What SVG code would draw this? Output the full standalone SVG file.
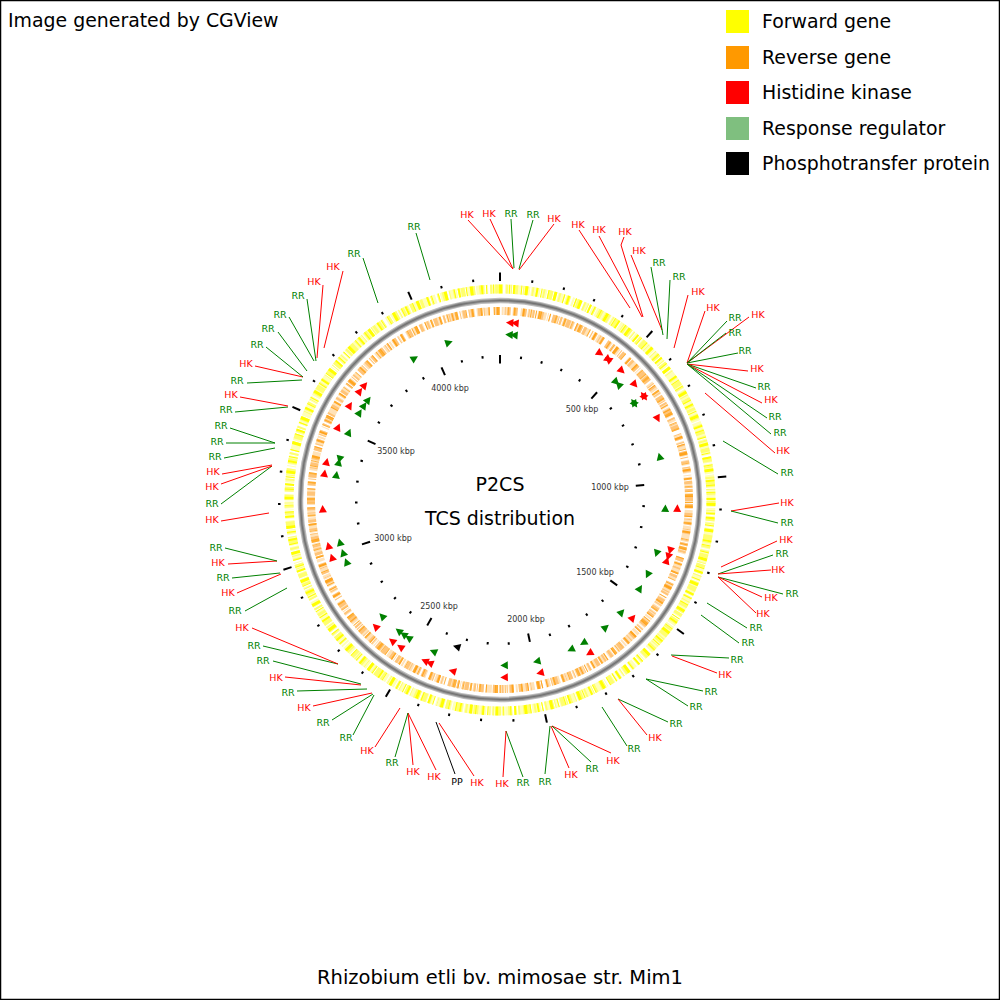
<svg xmlns="http://www.w3.org/2000/svg" xmlns:xlink="http://www.w3.org/1999/xlink" width="1000" height="1000" viewBox="0 0 1000 1000">
<style>
.lab text{font-family:"DejaVu Sans","Liberation Sans",sans-serif;font-size:9.5px;text-anchor:middle}
.tr text,text.tr{fill:#ff0000}
.tg text,text.tg{fill:#008000}
.tk text{fill:#000}
.cr{stroke:#ff0000}
.cg{stroke:#008000}
.ck{stroke:#000}
.kb{font-family:"DejaVu Sans","Liberation Sans",sans-serif;font-size:8px;fill:#333;text-anchor:middle}
.big{font-family:"DejaVu Sans","Liberation Sans",sans-serif;fill:#000}
.fr{fill:#ff0000}.fg{fill:#008000}.fk{fill:#000}
</style>
<defs>
<path id="tf" d="M-3.5,-4L4,0L-3.5,4Z"/>
<path id="tb" d="M3.5,-4L-4,0L3.5,4Z"/>
<line id="ts" x1="0" y1="-142.5" x2="0" y2="-145" stroke="#000" stroke-width="2"/>
<line id="tl" x1="0" y1="-136.5" x2="0" y2="-145" stroke="#000" stroke-width="2"/>
<line id="os" x1="0" y1="-219.5" x2="0" y2="-222" stroke="#000" stroke-width="2"/>
<line id="ol" x1="0" y1="-219" x2="0" y2="-227.5" stroke="#000" stroke-width="2"/>
</defs>
<rect x="0.5" y="0.5" width="999" height="999" fill="#fff" stroke="#000" stroke-width="1.5"/>

<text class="big" x="8" y="27" font-size="18.9">Image generated by CGView</text>

<g id="legend" class="big" font-size="18.9">
<rect x="726" y="10" width="23" height="23" fill="#ffff00"/>
<text x="762" y="28">Forward gene</text>
<rect x="726" y="46" width="23" height="23" fill="#ff9900"/>
<text x="762" y="64">Reverse gene</text>
<rect x="726" y="81" width="23" height="23" fill="#ff0000"/>
<text x="762" y="99">Histidine kinase</text>
<rect x="726" y="117" width="23" height="23" fill="#7fbf7f"/>
<text x="762" y="135">Response regulator</text>
<rect x="726" y="152" width="23" height="23" fill="#000"/>
<text x="762" y="170">Phosphotransfer protein</text>
</g>

<g id="rings" fill="none">
<circle cx="500" cy="500" r="211" stroke="#ffffb8" stroke-width="9" stroke-dasharray="4 1 2 1 6 2 1 1 3 1 5 1 2 2 7 1 1 1 3 2 2 1 4 1 1 3 5 1 2 1"/>
<circle cx="500" cy="500" r="211" stroke="#ffff70" stroke-width="9" stroke-dasharray="2 3 1 2 4 5 1 1 3 4 2 2 1 6 2 3 5 2 1 3" stroke-dashoffset="7"/>
<circle cx="500" cy="500" r="211" stroke="#ffff00" stroke-width="9" stroke-dasharray="1 5 3 7 1 3 2 6 1 3 3 8 2 3 1 6" stroke-dashoffset="3"/>
<circle cx="500" cy="500" r="189" stroke="#ffe2b8" stroke-width="8" stroke-dasharray="3 1 1 2 2 1 5 3 1 1 2 4 3 1 1 2 6 2 1 1 2 3 4 1 1 5"/>
<circle cx="500" cy="500" r="189" stroke="#ffc478" stroke-width="8" stroke-dasharray="1 2 3 3 1 1 2 5 4 2 1 3 2 4 1 1 3 6" stroke-dashoffset="5"/>
<circle cx="500" cy="500" r="189" stroke="#ff9900" stroke-opacity="0.75" stroke-width="8" stroke-dasharray="2 6 1 4 1 2 3 8 1 5 2 7" stroke-dashoffset="11"/>
<circle cx="500" cy="500" r="199.5" stroke="#bdbdbd" stroke-width="5.5"/>
<circle cx="500" cy="500" r="199.5" stroke="#909090" stroke-width="3.2"/>
<circle cx="500" cy="500" r="199.5" stroke="#727272" stroke-width="1.2"/>
</g>

<g id="rulers" transform="translate(500,500)">
<use href="#tl"/><use href="#ts" transform="rotate(8.405)"/><use href="#ts" transform="rotate(16.811)"/><use href="#ts" transform="rotate(25.216)"/><use href="#ts" transform="rotate(33.621)"/><use href="#tl" transform="rotate(42.027)"/><use href="#ts" transform="rotate(50.432)"/><use href="#ts" transform="rotate(58.837)"/><use href="#ts" transform="rotate(67.243)"/><use href="#ts" transform="rotate(75.648)"/><use href="#tl" transform="rotate(84.053)"/><use href="#ts" transform="rotate(92.459)"/><use href="#ts" transform="rotate(100.864)"/><use href="#ts" transform="rotate(109.269)"/><use href="#ts" transform="rotate(117.675)"/><use href="#tl" transform="rotate(126.08)"/><use href="#ts" transform="rotate(134.485)"/><use href="#ts" transform="rotate(142.891)"/><use href="#ts" transform="rotate(151.296)"/><use href="#ts" transform="rotate(159.701)"/><use href="#tl" transform="rotate(168.107)"/><use href="#ts" transform="rotate(176.512)"/><use href="#ts" transform="rotate(184.917)"/><use href="#ts" transform="rotate(193.323)"/><use href="#ts" transform="rotate(201.728)"/><use href="#tl" transform="rotate(210.133)"/><use href="#ts" transform="rotate(218.539)"/><use href="#ts" transform="rotate(226.944)"/><use href="#ts" transform="rotate(235.349)"/><use href="#ts" transform="rotate(243.755)"/><use href="#tl" transform="rotate(252.16)"/><use href="#ts" transform="rotate(260.565)"/><use href="#ts" transform="rotate(268.971)"/><use href="#ts" transform="rotate(277.376)"/><use href="#ts" transform="rotate(285.781)"/><use href="#tl" transform="rotate(294.187)"/><use href="#ts" transform="rotate(302.592)"/><use href="#ts" transform="rotate(310.997)"/><use href="#ts" transform="rotate(319.403)"/><use href="#ts" transform="rotate(327.808)"/><use href="#tl" transform="rotate(336.213)"/><use href="#ts" transform="rotate(344.619)"/><use href="#ts" transform="rotate(353.024)"/>
<use href="#ol"/><use href="#os" transform="rotate(8.405)"/><use href="#os" transform="rotate(16.811)"/><use href="#os" transform="rotate(25.216)"/><use href="#os" transform="rotate(33.621)"/><use href="#ol" transform="rotate(42.027)"/><use href="#os" transform="rotate(50.432)"/><use href="#os" transform="rotate(58.837)"/><use href="#os" transform="rotate(67.243)"/><use href="#os" transform="rotate(75.648)"/><use href="#ol" transform="rotate(84.053)"/><use href="#os" transform="rotate(92.459)"/><use href="#os" transform="rotate(100.864)"/><use href="#os" transform="rotate(109.269)"/><use href="#os" transform="rotate(117.675)"/><use href="#ol" transform="rotate(126.08)"/><use href="#os" transform="rotate(134.485)"/><use href="#os" transform="rotate(142.891)"/><use href="#os" transform="rotate(151.296)"/><use href="#os" transform="rotate(159.701)"/><use href="#ol" transform="rotate(168.107)"/><use href="#os" transform="rotate(176.512)"/><use href="#os" transform="rotate(184.917)"/><use href="#os" transform="rotate(193.323)"/><use href="#os" transform="rotate(201.728)"/><use href="#ol" transform="rotate(210.133)"/><use href="#os" transform="rotate(218.539)"/><use href="#os" transform="rotate(226.944)"/><use href="#os" transform="rotate(235.349)"/><use href="#os" transform="rotate(243.755)"/><use href="#ol" transform="rotate(252.16)"/><use href="#os" transform="rotate(260.565)"/><use href="#os" transform="rotate(268.971)"/><use href="#os" transform="rotate(277.376)"/><use href="#os" transform="rotate(285.781)"/><use href="#ol" transform="rotate(294.187)"/><use href="#os" transform="rotate(302.592)"/><use href="#os" transform="rotate(310.997)"/><use href="#os" transform="rotate(319.403)"/><use href="#os" transform="rotate(327.808)"/><use href="#ol" transform="rotate(336.213)"/><use href="#os" transform="rotate(344.619)"/><use href="#os" transform="rotate(353.024)"/>
</g>

<g id="kbp-labels">
<text class="kb" x="582" y="412">500 kbp</text>
<text class="kb" x="610" y="490">1000 kbp</text>
<text class="kb" x="595" y="575">1500 kbp</text>
<text class="kb" x="526" y="622">2000 kbp</text>
<text class="kb" x="439" y="609">2500 kbp</text>
<text class="kb" x="393" y="541">3000 kbp</text>
<text class="kb" x="396" y="454">3500 kbp</text>
<text class="kb" x="450" y="391">4000 kbp</text>
</g>

<g id="center-title" class="big" text-anchor="middle" font-size="19">
<text x="500" y="491">P2CS</text>
<text x="500" y="525">TCS distribution</text>
</g>

<g id="features" transform="translate(500,500)">
<g class="fr">
<use href="#tb" transform="rotate(3.2) translate(0,-177.5)"/>
<use href="#tb" transform="rotate(4.9) translate(0,-177.5)"/>
<use href="#tf" transform="rotate(34.3) translate(0,-177.5)"/>
<use href="#tf" transform="rotate(37.6) translate(0,-177.5)"/>
<use href="#tb" transform="rotate(37.6) translate(0,-177.5)"/>
<use href="#tf" transform="rotate(43.3) translate(0,-177.5)"/>
<use href="#tf" transform="rotate(49.4) translate(0,-177.5)"/>
<use href="#tb" transform="rotate(53.8) translate(0,-177.5)"/>
<use href="#tf" transform="rotate(54.6) translate(0,-177.5)"/>
<use href="#tf" transform="rotate(62.7) translate(0,-177.5)"/>
<use href="#tb" transform="rotate(92.7) translate(0,-177.5)"/>
<use href="#tf" transform="rotate(106.5) translate(0,-177.5)"/>
<use href="#tf" transform="rotate(108.6) translate(0,-177.5)"/>
<use href="#tb" transform="rotate(110) translate(0,-177.5)"/>
<use href="#tb" transform="rotate(131.6) translate(0,-177.5)"/>
<use href="#tf" transform="rotate(149.7) translate(0,-177.5)"/>
<use href="#tf" transform="rotate(166.9) translate(0,-177.5)"/>
<use href="#tf" transform="rotate(178.6) translate(0,-177.5)"/>
<use href="#tf" transform="rotate(195.5) translate(0,-177.5)"/>
<use href="#tf" transform="rotate(203.3) translate(0,-177.5)"/>
<use href="#tf" transform="rotate(205) translate(0,-177.5)"/>
<use href="#tf" transform="rotate(214.1) translate(0,-177.5)"/>
<use href="#tf" transform="rotate(217.4) translate(0,-177.5)"/>
<use href="#tf" transform="rotate(224.5) translate(0,-177.5)"/>
<use href="#tf" transform="rotate(251.1) translate(0,-177.5)"/>
<use href="#tf" transform="rotate(255) translate(0,-177.5)"/>
<use href="#tf" transform="rotate(267.1) translate(0,-177.5)"/>
<use href="#tf" transform="rotate(278.6) translate(0,-177.5)"/>
<use href="#tf" transform="rotate(282.4) translate(0,-177.5)"/>
<use href="#tf" transform="rotate(294.2) translate(0,-177.5)"/>
<use href="#tf" transform="rotate(302.2) translate(0,-177.5)"/>
<use href="#tf" transform="rotate(307.8) translate(0,-177.5)"/>
<use href="#tf" transform="rotate(310.3) translate(0,-177.5)"/>
</g>
<g class="fg">
<use href="#tb" transform="rotate(3.2) translate(0,-165.5)"/>
<use href="#tb" transform="rotate(4.9) translate(0,-165.5)"/>
<use href="#tf" transform="rotate(44.6) translate(0,-165.5)"/>
<use href="#tb" transform="rotate(45.8) translate(0,-165.5)"/>
<use href="#tb" transform="rotate(53.8) translate(0,-165.5)"/>
<use href="#tf" transform="rotate(54.6) translate(0,-165.5)"/>
<use href="#tb" transform="rotate(74.8) translate(0,-165.5)"/>
<use href="#tb" transform="rotate(92.9) translate(0,-165.5)"/>
<use href="#tf" transform="rotate(108.8) translate(0,-165.5)"/>
<use href="#tf" transform="rotate(116.8) translate(0,-165.5)"/>
<use href="#tb" transform="rotate(122.3) translate(0,-165.5)"/>
<use href="#tb" transform="rotate(132.7) translate(0,-165.5)"/>
<use href="#tb" transform="rotate(140.3) translate(0,-165.5)"/>
<use href="#tf" transform="rotate(149.7) translate(0,-165.5)"/>
<use href="#tf" transform="rotate(154.6) translate(0,-165.5)"/>
<use href="#tf" transform="rotate(167.1) translate(0,-165.5)"/>
<use href="#tf" transform="rotate(178.5) translate(0,-165.5)"/>
<use href="#tf" transform="rotate(203.7) translate(0,-165.5)"/>
<use href="#tf" transform="rotate(213.5) translate(0,-165.5)"/>
<use href="#tf" transform="rotate(215.6) translate(0,-165.5)"/>
<use href="#tf" transform="rotate(217.7) translate(0,-165.5)"/>
<use href="#tf" transform="rotate(225.4) translate(0,-165.5)"/>
<use href="#tf" transform="rotate(248) translate(0,-165.5)"/>
<use href="#tf" transform="rotate(251.4) translate(0,-165.5)"/>
<use href="#tf" transform="rotate(255.2) translate(0,-165.5)"/>
<use href="#tf" transform="rotate(278.7) translate(0,-165.5)"/>
<use href="#tf" transform="rotate(283.1) translate(0,-165.5)"/>
<use href="#tb" transform="rotate(284.3) translate(0,-165.5)"/>
<use href="#tf" transform="rotate(294.1) translate(0,-165.5)"/>
<use href="#tf" transform="rotate(301.9) translate(0,-165.5)"/>
<use href="#tf" transform="rotate(304.8) translate(0,-165.5)"/>
<use href="#tf" transform="rotate(307.2) translate(0,-165.5)"/>
<use href="#tf" transform="rotate(328.9) translate(0,-165.5)"/>
<use href="#tf" transform="rotate(342) translate(0,-165.5)"/>
</g>
<g class="fk">
<use href="#tf" transform="rotate(196.4) translate(0,-153)"/>
</g>
</g>

<g id="connectors" fill="none" stroke-width="1">
<line class="cg" x1="416" y1="233" x2="430" y2="280"/>
<line class="cr" x1="468" y1="220" x2="513" y2="269"/>
<line class="cr" x1="490" y1="219" x2="513" y2="269"/>
<line class="cg" x1="511" y1="219" x2="514" y2="268"/>
<line class="cg" x1="533" y1="220" x2="519" y2="269"/>
<line class="cr" x1="554" y1="224" x2="519" y2="270"/>
<line class="cr" x1="579" y1="230" x2="630" y2="308"/>
<line class="cr" x1="599" y1="236" x2="642" y2="317"/>
<polyline class="cr" points="624,237 621,245 643,317"/>
<line class="cr" x1="631" y1="255" x2="662" y2="330"/>
<line class="cg" x1="651" y1="267" x2="663" y2="335"/>
<line class="cg" x1="670" y1="280" x2="667" y2="339"/>
<line class="cr" x1="688" y1="295" x2="674" y2="348"/>
<line class="cr" x1="705" y1="311" x2="687" y2="363"/>
<line class="cg" x1="727" y1="321" x2="687" y2="363"/>
<line class="cr" x1="749" y1="317" x2="687" y2="363"/>
<line class="cg" x1="726" y1="333" x2="687" y2="363"/>
<line class="cg" x1="738" y1="353" x2="687" y2="363"/>
<line class="cr" x1="748" y1="371" x2="687" y2="364"/>
<line class="cg" x1="756" y1="388" x2="687" y2="364"/>
<line class="cr" x1="762" y1="403" x2="687" y2="364"/>
<line class="cg" x1="767" y1="418" x2="687" y2="364"/>
<line class="cg" x1="771" y1="434" x2="687" y2="364"/>
<line class="cr" x1="775" y1="453" x2="705" y2="393"/>
<line class="cg" x1="778" y1="474" x2="723" y2="441"/>
<line class="cr" x1="779" y1="503" x2="731" y2="511"/>
<line class="cg" x1="778" y1="523" x2="731" y2="511"/>
<line class="cr" x1="777" y1="541" x2="721" y2="567"/>
<line class="cg" x1="773" y1="555" x2="718" y2="574"/>
<line class="cr" x1="771" y1="570" x2="718" y2="574"/>
<line class="cg" x1="783" y1="594" x2="718" y2="577"/>
<line class="cr" x1="762" y1="597" x2="718" y2="577"/>
<line class="cr" x1="756" y1="613" x2="718" y2="577"/>
<line class="cg" x1="747" y1="628" x2="707" y2="603"/>
<line class="cg" x1="739" y1="643" x2="701" y2="615"/>
<line class="cg" x1="729" y1="658" x2="671" y2="655"/>
<line class="cr" x1="717" y1="673" x2="672" y2="656"/>
<line class="cg" x1="703" y1="691" x2="646" y2="679"/>
<line class="cg" x1="688" y1="706" x2="646" y2="679"/>
<line class="cg" x1="668" y1="722" x2="618" y2="699"/>
<line class="cr" x1="647" y1="735" x2="618" y2="699"/>
<line class="cg" x1="627" y1="746" x2="602" y2="707"/>
<line class="cr" x1="611" y1="753" x2="552" y2="726"/>
<line class="cg" x1="591" y1="762" x2="552" y2="726"/>
<line class="cr" x1="569" y1="768" x2="551" y2="726"/>
<line class="cg" x1="545" y1="774" x2="550" y2="726"/>
<line class="cg" x1="523" y1="777" x2="506" y2="731"/>
<line class="cr" x1="503" y1="777" x2="506" y2="731"/>
<line class="cr" x1="474" y1="776" x2="439" y2="723"/>
<line class="ck" x1="455" y1="774" x2="436" y2="722"/>
<line class="cr" x1="436" y1="770" x2="408" y2="713"/>
<line class="cr" x1="413" y1="765" x2="408" y2="713"/>
<line class="cg" x1="395" y1="757" x2="408" y2="713"/>
<line class="cr" x1="375" y1="747" x2="400" y2="708"/>
<line class="cg" x1="353" y1="735" x2="374" y2="695"/>
<line class="cg" x1="332" y1="720" x2="373" y2="694"/>
<line class="cr" x1="313" y1="706" x2="372" y2="693"/>
<line class="cg" x1="297" y1="691" x2="367" y2="689"/>
<line class="cr" x1="285" y1="677" x2="361" y2="685"/>
<line class="cg" x1="273" y1="661" x2="361" y2="684"/>
<line class="cg" x1="263" y1="646" x2="338" y2="664"/>
<line class="cr" x1="252" y1="628" x2="338" y2="664"/>
<line class="cg" x1="245" y1="611" x2="287" y2="588"/>
<line class="cr" x1="237" y1="593" x2="281" y2="574"/>
<line class="cg" x1="232" y1="578" x2="280" y2="573"/>
<line class="cr" x1="228" y1="564" x2="277" y2="561"/>
<line class="cg" x1="225" y1="548" x2="277" y2="561"/>
<line class="cr" x1="221" y1="521" x2="269" y2="513"/>
<line class="cg" x1="221" y1="504" x2="272" y2="466"/>
<line class="cr" x1="221" y1="484" x2="272" y2="466"/>
<line class="cr" x1="222" y1="474" x2="272" y2="465"/>
<line class="cg" x1="224" y1="458" x2="275" y2="448"/>
<line class="cg" x1="226" y1="443" x2="275" y2="443"/>
<line class="cg" x1="230" y1="428" x2="275" y2="443"/>
<line class="cg" x1="235" y1="412" x2="288" y2="407"/>
<line class="cr" x1="240" y1="397" x2="288" y2="406"/>
<line class="cg" x1="247" y1="383" x2="302" y2="380"/>
<line class="cr" x1="255" y1="366" x2="303" y2="377"/>
<line class="cg" x1="266" y1="347" x2="303" y2="377"/>
<line class="cg" x1="278" y1="332" x2="307" y2="371"/>
<line class="cg" x1="289" y1="317" x2="314" y2="361"/>
<line class="cg" x1="307" y1="299" x2="316" y2="361"/>
<line class="cr" x1="323" y1="285" x2="317" y2="358"/>
<line class="cr" x1="343" y1="271" x2="324" y2="348"/>
<line class="cg" x1="363" y1="258" x2="378" y2="303"/>
</g>

<g id="labels" class="lab">
<g id="n1" class="tg"><text x="414" y="229.5">RR</text></g>
<g id="n2" class="tr"><text x="467" y="217.5">HK</text></g>
<g id="n3" class="tr"><text x="489" y="216.5">HK</text></g>
<g id="n4" class="tg"><text x="511" y="216.5">RR</text></g>
<g id="n5" class="tg"><text x="533" y="217.5">RR</text></g>
<g id="n6" class="tr"><text x="554" y="221.5">HK</text></g>
<g id="n7" class="tr"><text x="578" y="227.5">HK</text></g>
<g id="n8" class="tr"><text x="599" y="232.5">HK</text></g>
<g id="n9" class="tr"><text x="625" y="234.5">HK</text></g>
<g id="n10" class="tr"><text x="639" y="253.5">HK</text></g>
<g id="n11" class="tg"><text x="659" y="265.5">RR</text></g>
<g id="n12" class="tg"><text x="679" y="279.5">RR</text></g>
<g id="n13" class="tr"><text x="698" y="294.5">HK</text></g>
<g id="n14" class="tr"><text x="713" y="310.5">HK</text></g>
<g id="n15" class="tg"><text x="735" y="320.5">RR</text></g>
<g id="n16" class="tr"><text x="758" y="317.5">HK</text></g>
<g id="n17" class="tg"><text x="735" y="335.5">RR</text></g>
<g id="n18" class="tg"><text x="745" y="353.5">RR</text></g>
<g id="n19" class="tr"><text x="757" y="371.5">HK</text></g>
<g id="n20" class="tg"><text x="764" y="389.5">RR</text></g>
<g id="n21" class="tr"><text x="771" y="402.5">HK</text></g>
<g id="n22" class="tg"><text x="775" y="419.5">RR</text></g>
<g id="n23" class="tg"><text x="780" y="435.5">RR</text></g>
<g id="n24" class="tr"><text x="783" y="453.5">HK</text></g>
<g id="n25" class="tg"><text x="787" y="475.5">RR</text></g>
<g id="n26" class="tr"><text x="787" y="505.5">HK</text></g>
<g id="n27" class="tg"><text x="787" y="525.5">RR</text></g>
<g id="n28" class="tr"><text x="786" y="542.5">HK</text></g>
<g id="n29" class="tg"><text x="782" y="556.5">RR</text></g>
<g id="n30" class="tr"><text x="778" y="572.5">HK</text></g>
<g id="n31" class="tg"><text x="792" y="596.5">RR</text></g>
<g id="n32" class="tr"><text x="771" y="600.5">HK</text></g>
<g id="n33" class="tr"><text x="763" y="616.5">HK</text></g>
<g id="n34" class="tg"><text x="756" y="630.5">RR</text></g>
<g id="n35" class="tg"><text x="748" y="645.5">RR</text></g>
<g id="n36" class="tg"><text x="737" y="662.5">RR</text></g>
<g id="n37" class="tr"><text x="725" y="677.5">HK</text></g>
<g id="n38" class="tg"><text x="711" y="694.5">RR</text></g>
<g id="n39" class="tg"><text x="696" y="709.5">RR</text></g>
<g id="n40" class="tg"><text x="676" y="726.5">RR</text></g>
<g id="n41" class="tr"><text x="655" y="740.5">HK</text></g>
<g id="n42" class="tg"><text x="634" y="751.5">RR</text></g>
<g id="n43" class="tr"><text x="613" y="763.5">HK</text></g>
<g id="n44" class="tg"><text x="592" y="771.5">RR</text></g>
<g id="n45" class="tr"><text x="571" y="777.5">HK</text></g>
<g id="n46" class="tg"><text x="545" y="784.5">RR</text></g>
<g id="n47" class="tg"><text x="523" y="785.5">RR</text></g>
<g id="n48" class="tr"><text x="502" y="786.5">HK</text></g>
<g id="n49" class="tr"><text x="477" y="785.5">HK</text></g>
<g id="n50" class="tk"><text x="457" y="784.5">PP</text></g>
<g id="n51" class="tr"><text x="434" y="779.5">HK</text></g>
<g id="n52" class="tr"><text x="413" y="774.5">HK</text></g>
<g id="n53" class="tg"><text x="392" y="765.5">RR</text></g>
<g id="n54" class="tr"><text x="367" y="753.5">HK</text></g>
<g id="n55" class="tg"><text x="346" y="740.5">RR</text></g>
<g id="n56" class="tg"><text x="323" y="725.5">RR</text></g>
<g id="n57" class="tr"><text x="304" y="710.5">HK</text></g>
<g id="n58" class="tg"><text x="288" y="695.5">RR</text></g>
<g id="n59" class="tr"><text x="276" y="680.5">HK</text></g>
<g id="n60" class="tg"><text x="263" y="663.5">RR</text></g>
<g id="n61" class="tg"><text x="254" y="648.5">RR</text></g>
<g id="n62" class="tr"><text x="242" y="630.5">HK</text></g>
<g id="n63" class="tg"><text x="235" y="613.5">RR</text></g>
<g id="n64" class="tr"><text x="228" y="595.5">HK</text></g>
<g id="n65" class="tg"><text x="223" y="580.5">RR</text></g>
<g id="n66" class="tr"><text x="218" y="565.5">HK</text></g>
<g id="n67" class="tg"><text x="216" y="550.5">RR</text></g>
<g id="n68" class="tr"><text x="212" y="522.5">HK</text></g>
<g id="n69" class="tg"><text x="212" y="506.5">RR</text></g>
<g id="n70" class="tr"><text x="212" y="489.5">HK</text></g>
<g id="n71" class="tr"><text x="213" y="474.5">HK</text></g>
<g id="n72" class="tg"><text x="215" y="459.5">RR</text></g>
<g id="n73" class="tg"><text x="217" y="444.5">RR</text></g>
<g id="n74" class="tg"><text x="221" y="428.5">RR</text></g>
<g id="n75" class="tg"><text x="226" y="412.5">RR</text></g>
<g id="n76" class="tr"><text x="231" y="397.5">HK</text></g>
<g id="n77" class="tg"><text x="237" y="383.5">RR</text></g>
<g id="n78" class="tr"><text x="246" y="366.5">HK</text></g>
<g id="n79" class="tg"><text x="257" y="347.5">RR</text></g>
<g id="n80" class="tg"><text x="268" y="331.5">RR</text></g>
<g id="n81" class="tg"><text x="280" y="317.5">RR</text></g>
<g id="n82" class="tg"><text x="298" y="298.5">RR</text></g>
<g id="n83" class="tr"><text x="314" y="284.5">HK</text></g>
<g id="n84" class="tr"><text x="333" y="269.5">HK</text></g>
<g id="n85" class="tg"><text x="354" y="256.5">RR</text></g>
</g>

<text class="big" x="500" y="984" font-size="19.5" text-anchor="middle">Rhizobium etli bv. mimosae str. Mim1</text>
</svg>
